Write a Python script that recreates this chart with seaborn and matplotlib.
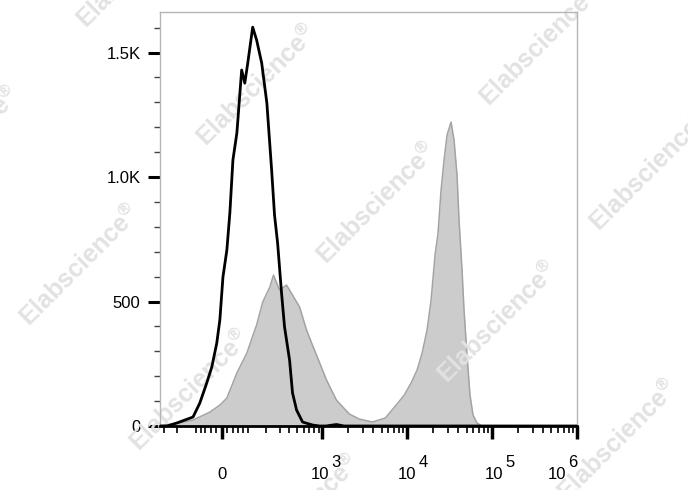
import numpy as np
import pandas as pd
import seaborn as sns
import matplotlib.pyplot as plt
import matplotlib.ticker as mticker
from matplotlib.transforms import ScaledTranslation

# isotype control (black line) - fluorescence vs count
ctrl_x = [-338, -275, -203, -113, -83, -55, -36, -18, -7, 4,
          18, 29, 40, 55, 74, 87, 100, 123, 143, 171,
          203, 236, 258, 283, 318, 347, 401, 436, 489, 578,
          760, 922, 1100, 1463, 1800, 1e6]
ctrl_y = [0, 0, 12, 36, 92, 173, 237, 333, 426, 598,
          707, 859, 1068, 1177, 1430, 1377, 1458, 1602, 1550, 1458,
          1297, 1028, 847, 735, 534, 398, 265, 133, 64, 16,
          4, 0, 0, 6, 0, 0]

# stained sample (grey filled)
stain_x = [-338, -215, -113, -43, -7, 18, 55, 96, 128, 143,
           177, 223, 250, 300, 368, 436, 532, 645, 760, 849,
           1116, 1463, 2080, 2725, 3878, 5515, 7415, 9209, 11122, 13087,
           14973, 17148, 19113, 21288, 23082, 25047, 27169, 29475, 32829, 35619,
           38619, 40767, 44239, 46688, 50632, 54928, 59579, 66365, 75980, 1e6]
stain_y = [4, 8, 24, 56, 84, 112, 213, 293, 373, 406,
           498, 558, 606, 546, 566, 526, 478, 386, 325, 285,
           185, 104, 48, 28, 16, 32, 84, 124, 173, 225,
           293, 386, 506, 687, 775, 948, 1068, 1169, 1221, 1149,
           1008, 827, 627, 466, 285, 124, 44, 12, 0, 0]

y_ticks = [0, 500, 1000, 1500]
y_labels = ['0', '500', '1.0K', '1.5K']
x_ticks = [0, 1e3, 1e4, 1e5, 1e6]
x_labels = ['0', '10', '10', '10', '10']
x_exponents = ['3', '4', '5', '6']

ctrl = pd.DataFrame({'x': ctrl_x, 'count': ctrl_y})
stain = pd.DataFrame({'x': stain_x, 'count': stain_y})

sns.set_theme(style='white')
plt.rcParams['font.family'] = ['Liberation Sans', 'DejaVu Sans']
plt.rcParams['mathtext.fontset'] = 'custom'
plt.rcParams['mathtext.rm'] = 'Liberation Sans'

W, H = 688, 490
fig = plt.figure(figsize=(6.88, 4.9), dpi=100)
ax = fig.add_axes([160 / W, 1 - 426 / H, 417 / W, 414 / H])

# biexponential-like display scale
C = 131.0
ax.set_xscale('function', functions=(lambda v: np.arcsinh(np.asarray(v) / C),
                                      lambda v: C * np.sinh(np.asarray(v))))

ax.fill_between(stain['x'], 0, stain['count'], color='#cccccc', lw=0, zorder=1)
sns.lineplot(data=stain, x='x', y='count', ax=ax, color='#a3a3a3', lw=1.1,
             estimator=None, sort=False, zorder=1.2)
sns.lineplot(data=ctrl, x='x', y='count', ax=ax, color='black', lw=2.0,
             estimator=None, sort=False, zorder=3)

ax.set_xlim(-338, 1e6)
ax.set_ylim(0, 1663)
ax.set_xlabel('')
ax.set_ylabel('')

# y axis
ax.set_yticks(y_ticks)
ax.set_yticklabels(y_labels, fontsize=12, color='black')
ax.yaxis.set_minor_locator(mticker.MultipleLocator(100))
ax.tick_params(axis='y', which='major', direction='out', length=9, width=2.2,
               color='black', pad=5, left=True)
ax.tick_params(axis='y', which='minor', direction='out', length=4, width=1,
               color='#444444', left=True)

# x axis
minor_x = ([-300, -200, -100] + list(range(-80, 0, 20)) + list(range(20, 100, 20))
           + list(range(100, 1000, 100)) + [m * 10 ** e for e in (3, 4, 5) for m in range(2, 10)])
ax.set_xticks(x_ticks)
ax.set_xticklabels(x_labels, fontsize=12, color='black')
ax.xaxis.set_minor_locator(mticker.FixedLocator(minor_x))
ax.xaxis.set_minor_formatter(mticker.NullFormatter())
ax.tick_params(axis='x', which='major', direction='out', length=9, width=2.5,
               color='black', pad=29, bottom=True)
ax.tick_params(axis='x', which='minor', direction='out', length=5, width=1.2,
               color='black', bottom=True)

# horizontal nudges (pixels) of the decade labels
label_dx = [0, -2, 0, 2, -20]
for lbl, dx in zip(ax.get_xticklabels(), label_dx):
    lbl.set_verticalalignment('baseline')
    lbl.set_transform(lbl.get_transform() + ScaledTranslation(dx / 100, 0, fig.dpi_scale_trans))
for t, e, dx in zip(x_ticks[1:], x_exponents, label_dx[1:]):
    ax.annotate(e, xy=(t, 0), xycoords=('data', 'axes fraction'),
                xytext=((dx + 11) * 0.72, -29.5),
                textcoords='offset points', fontsize=12, ha='left', va='baseline',
                color='black', annotation_clip=False)

for side in ['left', 'top', 'right']:
    ax.spines[side].set_color('#b5b5b5')
    ax.spines[side].set_linewidth(1)
ax.spines['bottom'].set_color('black')
ax.spines['bottom'].set_linewidth(2)

# watermark
marks = [(-40, 147), (80, 265), (190, 390), (300, 515),
         (137, -33), (257, 85), (377, 203), (498, 322), (618, 440),
         (420, -75), (540, 45), (650, 170), (770, 290)]
for px, py in marks:
    ax.text(px / W, 1 - py / H, 'Elabscience$^{\\mathregular{\u00ae}}$', transform=fig.transFigure,
            rotation=45, rotation_mode='anchor', ha='center', va='center',
            fontsize=18, fontweight='bold', color='#e2e2e2', zorder=2,
            clip_on=False)

fig.savefig('out.png', dpi=100)
